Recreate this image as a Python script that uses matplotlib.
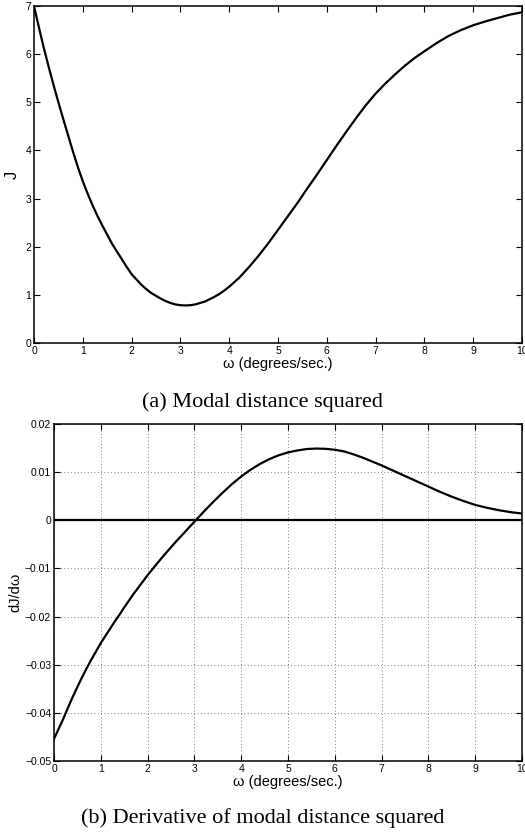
import matplotlib
matplotlib.use("Agg")
import matplotlib.pyplot as plt
from matplotlib.ticker import FuncFormatter

# modal distance squared J vs omega
w_J = [0, 0.1, 0.2, 0.3, 0.4, 0.5, 0.6, 0.7, 0.8, 0.9, 1.0, 1.1, 1.2, 1.3,
       1.4, 1.5, 1.6, 1.7, 1.8, 1.9, 2.0, 2.1, 2.2, 2.3, 2.4, 2.5, 2.6, 2.7,
       2.8, 2.9, 3.0, 3.1, 3.2, 3.3, 3.4, 3.5, 3.6, 3.7, 3.8, 3.9, 4.0, 4.2,
       4.4, 4.6, 4.8, 5.0, 5.2, 5.4, 5.6, 5.8, 6.0, 6.2, 6.4, 6.6, 6.8, 7.0,
       7.2, 7.4, 7.6, 7.8, 8.0, 8.25, 8.5, 8.75, 9.0, 9.25, 9.5, 9.75, 10]
J = [7.0, 6.56, 6.13, 5.74, 5.36, 5.0, 4.65, 4.31, 3.97, 3.65, 3.36, 3.1,
     2.86, 2.64, 2.44, 2.25, 2.06, 1.9, 1.74, 1.58, 1.43, 1.32, 1.21, 1.12,
     1.04, 0.98, 0.92, 0.87, 0.83, 0.80, 0.785, 0.78, 0.785, 0.80, 0.83, 0.86,
     0.91, 0.96, 1.02, 1.09, 1.17, 1.35, 1.57, 1.81, 2.07, 2.35, 2.63, 2.91,
     3.21, 3.5, 3.8, 4.1, 4.39, 4.67, 4.94, 5.18, 5.39, 5.58, 5.76, 5.92,
     6.06, 6.23, 6.38, 6.5, 6.6, 6.68, 6.75, 6.82, 6.87]

# derivative dJ/domega
w_dJ = [0, 0.1, 0.2, 0.3, 0.4, 0.5, 0.6, 0.7, 0.8, 0.9, 1.0, 1.1, 1.2, 1.3,
        1.4, 1.5, 1.6, 1.7, 1.8, 1.9, 2.0, 2.1, 2.2, 2.4, 2.6, 2.8, 3.0, 3.2,
        3.4, 3.6, 3.8, 4.0, 4.2, 4.4, 4.6, 4.8, 5.0, 5.2, 5.4, 5.6, 5.8, 6.0,
        6.2, 6.4, 6.6, 6.8, 7.0, 7.25, 7.5, 7.75, 8.0, 8.25, 8.5, 8.75, 9.0,
        9.25, 9.5, 9.75, 10]
dJ = [-0.0454, -0.0433, -0.0412, -0.0389, -0.0367, -0.0346, -0.0326, -0.0307,
      -0.0289, -0.0272, -0.0255, -0.0240, -0.0225, -0.0210, -0.0196, -0.0181,
      -0.0167, -0.0153, -0.0140, -0.0127, -0.0114, -0.0102, -0.0090, -0.0067,
      -0.0045, -0.0024, -0.0003, 0.0018, 0.0038, 0.0057, 0.0075, 0.0091,
      0.0105, 0.0117, 0.0127, 0.0135, 0.0141, 0.0145, 0.0148, 0.0149, 0.01485,
      0.01465, 0.0143, 0.0137, 0.0130, 0.0122, 0.0114, 0.0103, 0.0092, 0.0081,
      0.0070, 0.0059, 0.0049, 0.0040, 0.0032, 0.0026, 0.0021, 0.0017, 0.0014]

xticks = list(range(0, 11))
J_ticks = list(range(0, 8))
dJ_ticks = [-0.05, -0.04, -0.03, -0.02, -0.01, 0, 0.01, 0.02]

sans = "Liberation Sans"
serif = "Liberation Serif"

fig = plt.figure(figsize=(5.25, 8.36), dpi=100)
W, H = 525.0, 836.0


def style(ax):
    for s in ax.spines.values():
        s.set_linewidth(1.1)
    ax.tick_params(direction="in", length=4, width=0.8, top=True, right=True,
                   labelsize=7.5, pad=2)
    for lab in ax.get_xticklabels() + ax.get_yticklabels():
        lab.set_fontfamily(sans)


def fmt(v, pos):
    s = "%g" % v
    return s.replace("-", "\u2212")


# (a) top panel
ax1 = fig.add_axes([34 / W, 1 - 343 / H, 488 / W, 337 / H])
ax1.plot(w_J, J, color="black", lw=1.6)
ax1.set_xlim(0, 10)
ax1.set_ylim(0, 7)
ax1.set_xticks(xticks)
ax1.set_yticks(J_ticks)
style(ax1)
ax1.set_xlabel("\u03c9 (degrees/sec.)", fontsize=10.5, family=[sans, "DejaVu Sans"], labelpad=1)
ax1.set_ylabel("J", fontsize=12, family=sans, labelpad=4)
fig.text(0.5, 1 - 402 / H, "(a) Modal distance squared", ha="center", va="center",
         fontsize=16, family=serif)

# (b) bottom panel
ax2 = fig.add_axes([54 / W, 1 - 761 / H, 468 / W, 337 / H])
ax2.plot(w_dJ, dJ, color="black", lw=1.6)
ax2.axhline(0, color="black", lw=1.6)
ax2.set_xlim(0, 10)
ax2.set_ylim(-0.05, 0.02)
ax2.set_xticks(xticks)
ax2.set_yticks(dJ_ticks)
ax2.yaxis.set_major_formatter(FuncFormatter(fmt))
ax2.grid(True, linestyle=(0, (1, 3)), color="#555555", lw=0.6)
style(ax2)
ax2.set_xlabel("\u03c9 (degrees/sec.)", fontsize=10.5, family=[sans, "DejaVu Sans"], labelpad=1)
ax2.set_ylabel("dJ/d\u03c9", fontsize=10.5, family=[sans, "DejaVu Sans"], labelpad=2)
fig.text(0.5, 1 - 818 / H, "(b) Derivative of modal distance squared", ha="center",
         va="center", fontsize=16, family=serif)

fig.savefig("out.png", dpi=100)
